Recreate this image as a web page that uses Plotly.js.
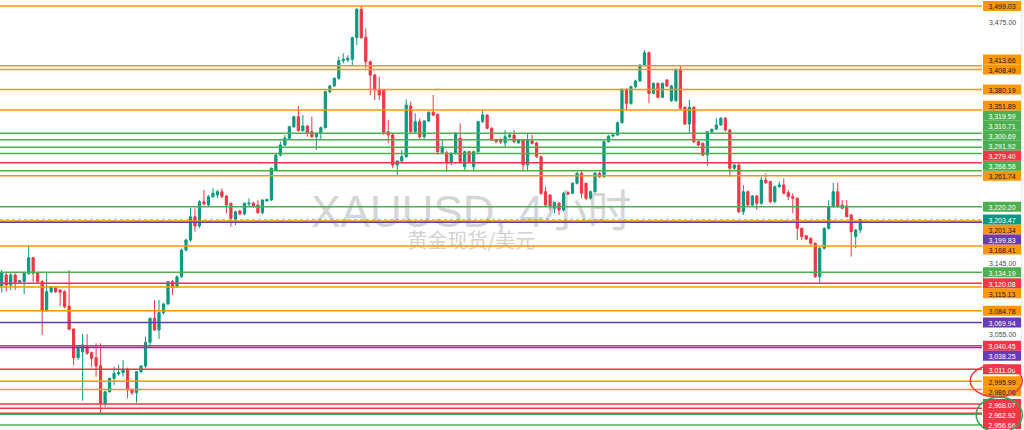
<!DOCTYPE html>
<html><head><meta charset="utf-8">
<script src="https://cdn.plot.ly/plotly-3.0.1.min.js"></script>
<style>html,body{margin:0;padding:0;overflow:hidden;background:#fff}#chart{width:1024px;height:430px}</style>
</head><body><div id="chart"></div>
<script>
// ---- data ----
const opens = [
3116.5,3130.7,3117.8,3130.7,3121.3,3122.1,3132.9,3153.2,3133.7,3122.1,
3084.8,3109.2,3114.9,3111.3,3109.2,3090.8,3061.6,3025.4,3032.6,3039.2,
3031.7,3025.4,3015.5,2968.9,2983.2,2999.8,3005.2,3006.8,3011.0,2985.3,
2982.0,3008.0,3015.1,3044.8,3075.1,3060.3,3082.3,3093.4,3122.1,3115.6,
3128.5,3163.2,3176.3,3207.1,3194.8,3227.0,3222.7,3233.7,3236.0,3240.4,
3234.6,3224.9,3204.0,3214.7,3210.7,3224.0,3225.0,3222.6,3212.4,3228.0,
3229.3,3269.6,3289.9,3303.6,3312.8,3328.7,3342.5,3323.2,3329.7,3321.8,
3314.9,3319.6,3327.3,3377.2,3385.2,3396.0,3420.8,3421.8,3422.7,3453.5,
3494.3,3454.0,3419.4,3400.6,3379.6,3379.6,3321.8,3317.3,3276.4,3281.8,
3287.6,3357.3,3321.8,3335.6,3314.9,3336.5,3348.6,3345.8,3293.6,3293.1,
3279.5,3292.3,3312.8,3274.1,3294.5,3274.1,3294.5,3335.6,3344.8,3326.5,
3310.4,3310.4,3306.6,3314.9,3317.3,3306.6,3310.4,3276.4,3309.0,3306.6,
3287.6,3240.4,3236.0,3218.3,3224.9,3216.0,3239.2,3238.3,3251.7,3265.2,
3251.7,3231.6,3240.4,3265.2,3260.6,3308.1,3315.9,3317.3,3334.2,3380.6,
3361.0,3384.2,3392.2,3414.7,3432.1,3375.0,3388.9,3369.4,3393.6,3364.7,
3364.7,3408.6,3355.5,3332.4,3355.5,3308.1,3305.9,3289.9,3321.8,3325.1,
3331.0,3340.3,3324.1,3271.9,3276.4,3213.7,3240.4,3222.6,3234.6,3224.9,
3256.1,3253.9,3227.0,3247.1,3249.4,3239.2,3233.7,3231.6,3191.7,3182.0,
3178.6,3172.0,3128.5,3165.5,3191.7,3220.4,3240.4,3222.6,3221.3,3209.3,
3180.7,3189.5];
const highs = [
3137.2,3135.0,3133.3,3133.0,3124.2,3135.0,3168.5,3154.5,3135.0,3124.2,
3135.0,3116.5,3115.6,3112.6,3111.0,3137.2,3062.0,3040.0,3055.2,3055.0,
3033.0,3043.5,3043.5,2984.0,3000.5,3014.2,3016.3,3022.6,3013.0,2987.0,
3009.0,3016.0,3051.8,3076.0,3098.5,3098.5,3095.0,3123.0,3124.0,3130.0,
3165.0,3178.0,3218.2,3218.2,3229.0,3242.7,3236.0,3245.0,3243.0,3245.0,
3236.0,3226.0,3215.0,3216.0,3226.0,3231.6,3227.0,3229.3,3230.0,3231.0,
3273.0,3291.0,3308.1,3317.3,3330.0,3344.0,3357.3,3344.8,3331.0,3342.5,
3321.0,3329.0,3379.0,3387.0,3397.0,3426.5,3431.2,3428.5,3455.0,3496.0,
3499.03,3467.0,3421.0,3402.0,3397.8,3381.0,3337.9,3319.0,3283.0,3296.8,
3366.6,3363.3,3347.2,3340.3,3338.0,3350.0,3372.6,3347.0,3310.4,3296.0,
3294.0,3321.0,3333.4,3296.0,3296.0,3296.0,3337.0,3352.7,3346.0,3328.0,
3312.0,3313.0,3324.1,3319.0,3324.1,3312.0,3312.0,3319.6,3318.0,3308.0,
3289.0,3246.7,3237.0,3227.0,3227.0,3240.0,3241.0,3253.0,3267.0,3269.6,
3253.0,3242.0,3267.0,3267.0,3310.0,3317.0,3319.0,3336.0,3382.0,3382.0,
3386.0,3394.0,3416.0,3435.9,3434.0,3390.0,3390.0,3390.0,3395.0,3387.0,
3410.0,3414.7,3357.0,3365.6,3357.0,3310.0,3307.0,3323.0,3326.0,3340.3,
3342.0,3342.0,3326.0,3278.0,3278.0,3249.4,3242.0,3236.0,3236.0,3260.6,
3265.2,3255.0,3249.0,3253.9,3258.4,3242.7,3238.3,3233.0,3193.0,3183.0,
3180.0,3173.0,3167.0,3193.0,3229.3,3252.5,3252.5,3229.3,3229.3,3211.0,
3191.0,3204.5];
const lows = [
3107.9,3109.2,3111.3,3111.3,3120.0,3105.8,3130.7,3122.1,3120.0,3054.0,
3083.2,3107.1,3107.5,3090.8,3088.0,3060.3,3016.3,3023.0,2972.1,3029.0,
3014.2,3001.8,2957.4,2964.7,2982.0,2991.5,3003.0,3001.8,2975.1,2979.0,
2969.7,3006.0,3013.0,3039.2,3059.0,3049.0,3080.0,3092.0,3105.0,3114.0,
3127.0,3161.0,3174.0,3187.3,3192.0,3222.0,3221.0,3232.0,3232.0,3232.0,
3211.6,3193.9,3196.1,3209.0,3209.0,3220.4,3219.0,3211.0,3210.0,3227.0,
3228.0,3268.0,3288.0,3302.0,3311.0,3327.0,3322.0,3322.0,3314.9,3313.0,
3296.8,3310.4,3326.0,3375.0,3384.0,3394.0,3417.1,3419.0,3414.7,3443.1,
3452.0,3410.0,3372.6,3365.6,3365.6,3317.3,3306.3,3271.9,3261.5,3280.0,
3286.0,3320.0,3320.0,3310.4,3310.4,3335.0,3343.0,3289.9,3292.0,3267.3,
3276.0,3290.0,3279.0,3269.6,3279.0,3269.6,3293.0,3334.0,3325.0,3309.0,
3306.0,3305.0,3301.3,3313.0,3306.0,3305.0,3269.6,3269.6,3304.0,3286.0,
3236.0,3221.0,3216.0,3211.6,3209.3,3214.0,3236.0,3237.0,3250.0,3231.6,
3229.0,3230.0,3239.0,3259.0,3259.0,3307.0,3314.0,3316.0,3333.0,3351.8,
3359.0,3382.0,3391.0,3413.0,3361.0,3373.0,3368.0,3368.0,3384.0,3363.0,
3363.0,3352.0,3331.0,3319.6,3306.0,3302.0,3288.0,3275.0,3320.0,3324.0,
3330.0,3322.0,3260.6,3270.0,3212.0,3209.3,3221.0,3221.0,3216.0,3223.0,
3251.0,3225.0,3225.0,3246.0,3237.0,3229.3,3211.6,3176.3,3176.3,3176.0,
3170.0,3127.0,3120.7,3164.0,3190.0,3219.0,3219.0,3217.0,3206.0,3154.5,
3165.5,3185.0];
const closes = [
3133.7,3117.8,3130.7,3121.3,3123.3,3132.9,3153.2,3132.9,3122.1,3084.8,
3109.2,3115.6,3109.2,3108.4,3090.0,3061.2,3025.4,3039.2,3041.4,3031.0,
3024.7,3015.1,2968.9,2983.2,2999.8,3006.0,3006.8,3011.0,2985.3,2982.0,
3008.0,3015.1,3044.8,3075.1,3060.3,3082.3,3093.4,3122.1,3115.6,3128.5,
3163.2,3176.3,3207.1,3194.8,3227.0,3224.0,3233.7,3238.3,3240.4,3233.7,
3222.6,3205.0,3213.7,3210.7,3224.9,3225.0,3221.3,3212.4,3229.3,3230.0,
3271.9,3289.9,3303.6,3313.2,3328.7,3342.5,3323.2,3329.7,3320.4,3314.9,
3319.6,3327.3,3377.2,3385.2,3396.0,3420.8,3422.7,3424.1,3453.5,3494.3,
3453.5,3419.4,3400.6,3379.6,3372.6,3319.5,3317.3,3276.4,3281.8,3287.6,
3358.7,3321.8,3335.6,3314.9,3336.5,3348.6,3344.8,3294.5,3301.3,3279.5,
3292.3,3319.6,3280.9,3294.5,3280.9,3294.5,3335.6,3344.8,3326.5,3310.4,
3308.1,3307.7,3314.9,3317.3,3308.1,3310.4,3276.4,3310.4,3305.9,3287.6,
3238.3,3222.6,3220.4,3225.7,3216.0,3238.3,3237.4,3251.7,3265.2,3238.3,
3231.6,3240.4,3265.2,3260.6,3308.1,3315.9,3317.3,3334.2,3380.6,3361.0,
3384.2,3392.2,3414.7,3432.1,3375.0,3388.9,3369.4,3388.9,3385.2,3385.2,
3408.6,3354.1,3332.4,3355.5,3308.1,3303.6,3289.9,3321.8,3325.1,3331.0,
3340.3,3324.1,3271.9,3276.4,3213.7,3240.4,3222.6,3234.6,3224.9,3256.1,
3252.5,3227.0,3247.1,3249.4,3238.3,3233.7,3231.6,3191.7,3180.7,3177.6,
3172.0,3128.5,3165.5,3191.7,3220.4,3240.4,3220.4,3218.3,3207.1,3187.3,
3189.5,3203.47];

const orangeLevels = [3499.03, 3413.66, 3408.49, 3380.19, 3351.89, 3261.74, 3201.34, 3168.41, 3115.13, 3084.78, 2995.99, 2986.06];
const greenLevels  = [3319.59, 3310.71, 3300.69, 3291.92, 3268.58, 3220.20, 3134.19, 2955.5, 2942.4];
const redLevels    = [3279.40, 3120.08, 3040.45, 3011.06, 2968.07, 2962.92, 2956.66];
const purpleLevels = [3199.83, 3069.94, 3038.25];
const lastPrice = 3203.47;
const priceTicks = [3475, 3145, 3055];
const symbolTitle = 'XAUUSD, 4小时';
const symbolSubtitle = '黄金现货/美元';

// ---- styling / layout ----
const W = 1024, H = 430, PLOT_W = 982;
const Y_TOP = 3.545025, Y_BOT = 3.467807;
const FONT = 'Liberation Sans, Arial, sans-serif';
const styles = {
  orange: {line: '#FF9800', bg: '#FF9800', fg: '#131722'},
  green:  {line: '#4CAF50', bg: '#4CAF50', fg: '#ffffff'},
  red:    {line: '#F23645', bg: '#F23645', fg: '#ffffff'},
  purple: {line: '#673AB7', bg: '#673AB7', fg: '#ffffff'}
};
const groups = [['orange', orangeLevels], ['green', greenLevels], ['red', redLevels], ['purple', purpleLevels]];

const x = opens.map((_, i) => i);
const trace = {
  type: 'candlestick', x: x, open: opens, high: highs, low: lows, close: closes,
  increasing: {line: {color: '#089981', width: 1}, fillcolor: '#089981'},
  decreasing: {line: {color: '#F23645', width: 1}, fillcolor: '#F23645'},
  whiskerwidth: 0, hoverinfo: 'skip', showlegend: false
};

const shapes = [];
// watermark (below the candles)
shapes.push({type: 'rect', xref: 'paper', yref: 'paper', x0: 0.28, x1: 0.68, y0: 0.47, y1: 0.567,
  line: {width: 0}, fillcolor: 'rgba(0,0,0,0)', layer: 'below',
  label: {text: symbolTitle, textposition: 'middle center', font: {size: 44, color: '#d6d6d6', family: 'Liberation Sans, Noto Sans CJK SC, sans-serif'}}});
shapes.push({type: 'rect', xref: 'paper', yref: 'paper', x0: 0.36, x1: 0.60, y0: 0.41, y1: 0.462,
  line: {width: 0}, fillcolor: 'rgba(0,0,0,0)', layer: 'below',
  label: {text: symbolSubtitle, textposition: 'middle center', font: {size: 20, color: '#d3d3d3', family: 'Noto Sans CJK SC, sans-serif'}}});

const labels = [];
groups.forEach(([kind, vals]) => {
  vals.forEach(v => {
    shapes.push({type: 'line', xref: 'paper', x0: 0, x1: 1, yref: 'y', y0: v, y1: v,
      line: {color: styles[kind].line, width: 1.5}, layer: 'above'});
    labels.push({v: v, bg: styles[kind].bg, fg: styles[kind].fg});
  });
});
shapes.push({type: 'line', xref: 'paper', x0: 0, x1: 1, yref: 'y', y0: lastPrice, y1: lastPrice,
  line: {color: 'rgba(120,123,134,0.55)', width: 1, dash: 'dot'}, layer: 'above'});
// thin border on the far right of the price scale
shapes.push({type: 'line', xref: 'paper', x0: 1.0405, x1: 1.0405, yref: 'paper', y0: 0, y1: 1,
  line: {color: '#e0e3eb', width: 1}, layer: 'above'});

// price-axis label stacking (labels pushed away from the last-price label)
const toPx = v => (Y_TOP - Math.log10(v)) / (Y_TOP - Y_BOT) * H;
const GAP = 10;
const lastPx = toPx(lastPrice);
const above = labels.filter(l => l.v > lastPrice).sort((a, b) => a.v - b.v);
const below = labels.filter(l => l.v <= lastPrice).sort((a, b) => b.v - a.v);
let prev = lastPx;
above.forEach(l => { l.pos = Math.min(toPx(l.v), prev - GAP); prev = l.pos; });
prev = lastPx;
below.forEach(l => { l.pos = Math.max(toPx(l.v), prev + GAP); prev = l.pos; });

const fmt = v => v.toLocaleString('en-US', {minimumFractionDigits: 2, maximumFractionDigits: 2});
const lx0 = 1 + 1 / PLOT_W, lx1 = 1 + 39 / PLOT_W;
labels.concat([{v: lastPrice, bg: '#089981', fg: '#ffffff', pos: lastPx}])
  .filter(l => l.pos < H - 3)
  .forEach(l => {
    shapes.push({type: 'rect', xref: 'paper', yref: 'paper', x0: lx0, x1: lx1,
      y0: 1 - (l.pos + 5) / H, y1: 1 - (l.pos - 5) / H,
      line: {width: 0}, fillcolor: l.bg, layer: 'above',
      label: {text: fmt(l.v), textposition: 'middle center', padding: 0,
        font: {size: 7, color: l.fg, family: FONT}}});
  });

// hand-drawn highlight ellipses on the price scale (on top of the labels)
shapes.push({type: 'circle', xref: 'paper', yref: 'paper', x0: 0.988, x1: 1.041, y0: 0.077, y1: 0.152,
  line: {color: '#F23645', width: 1.5}, fillcolor: 'rgba(0,0,0,0)', layer: 'above'});
shapes.push({type: 'circle', xref: 'paper', yref: 'paper', x0: 0.994, x1: 1.041, y0: -0.005, y1: 0.076,
  line: {color: '#2EA84A', width: 1.5}, fillcolor: 'rgba(0,0,0,0)', layer: 'above'});

const layout = {
  width: W, height: H, margin: {l: 0, r: W - PLOT_W, t: 0, b: 0},
  paper_bgcolor: '#ffffff', plot_bgcolor: '#ffffff', showlegend: false,
  xaxis: {range: [-0.378, 218.1], visible: false, rangeslider: {visible: false}, fixedrange: true},
  yaxis: {type: 'log', range: [Y_BOT, Y_TOP], side: 'right', showgrid: false, zeroline: false,
    showline: false, ticks: '', tickvals: priceTicks, tickformat: ',.2f',
    tickfont: {size: 7, color: '#4a4a4a', family: FONT}, ticklabelstandoff: 6, fixedrange: true},
  shapes: shapes
};
Plotly.newPlot('chart', [trace], layout, {displayModeBar: false, staticPlot: true});
</script>
</body></html>
